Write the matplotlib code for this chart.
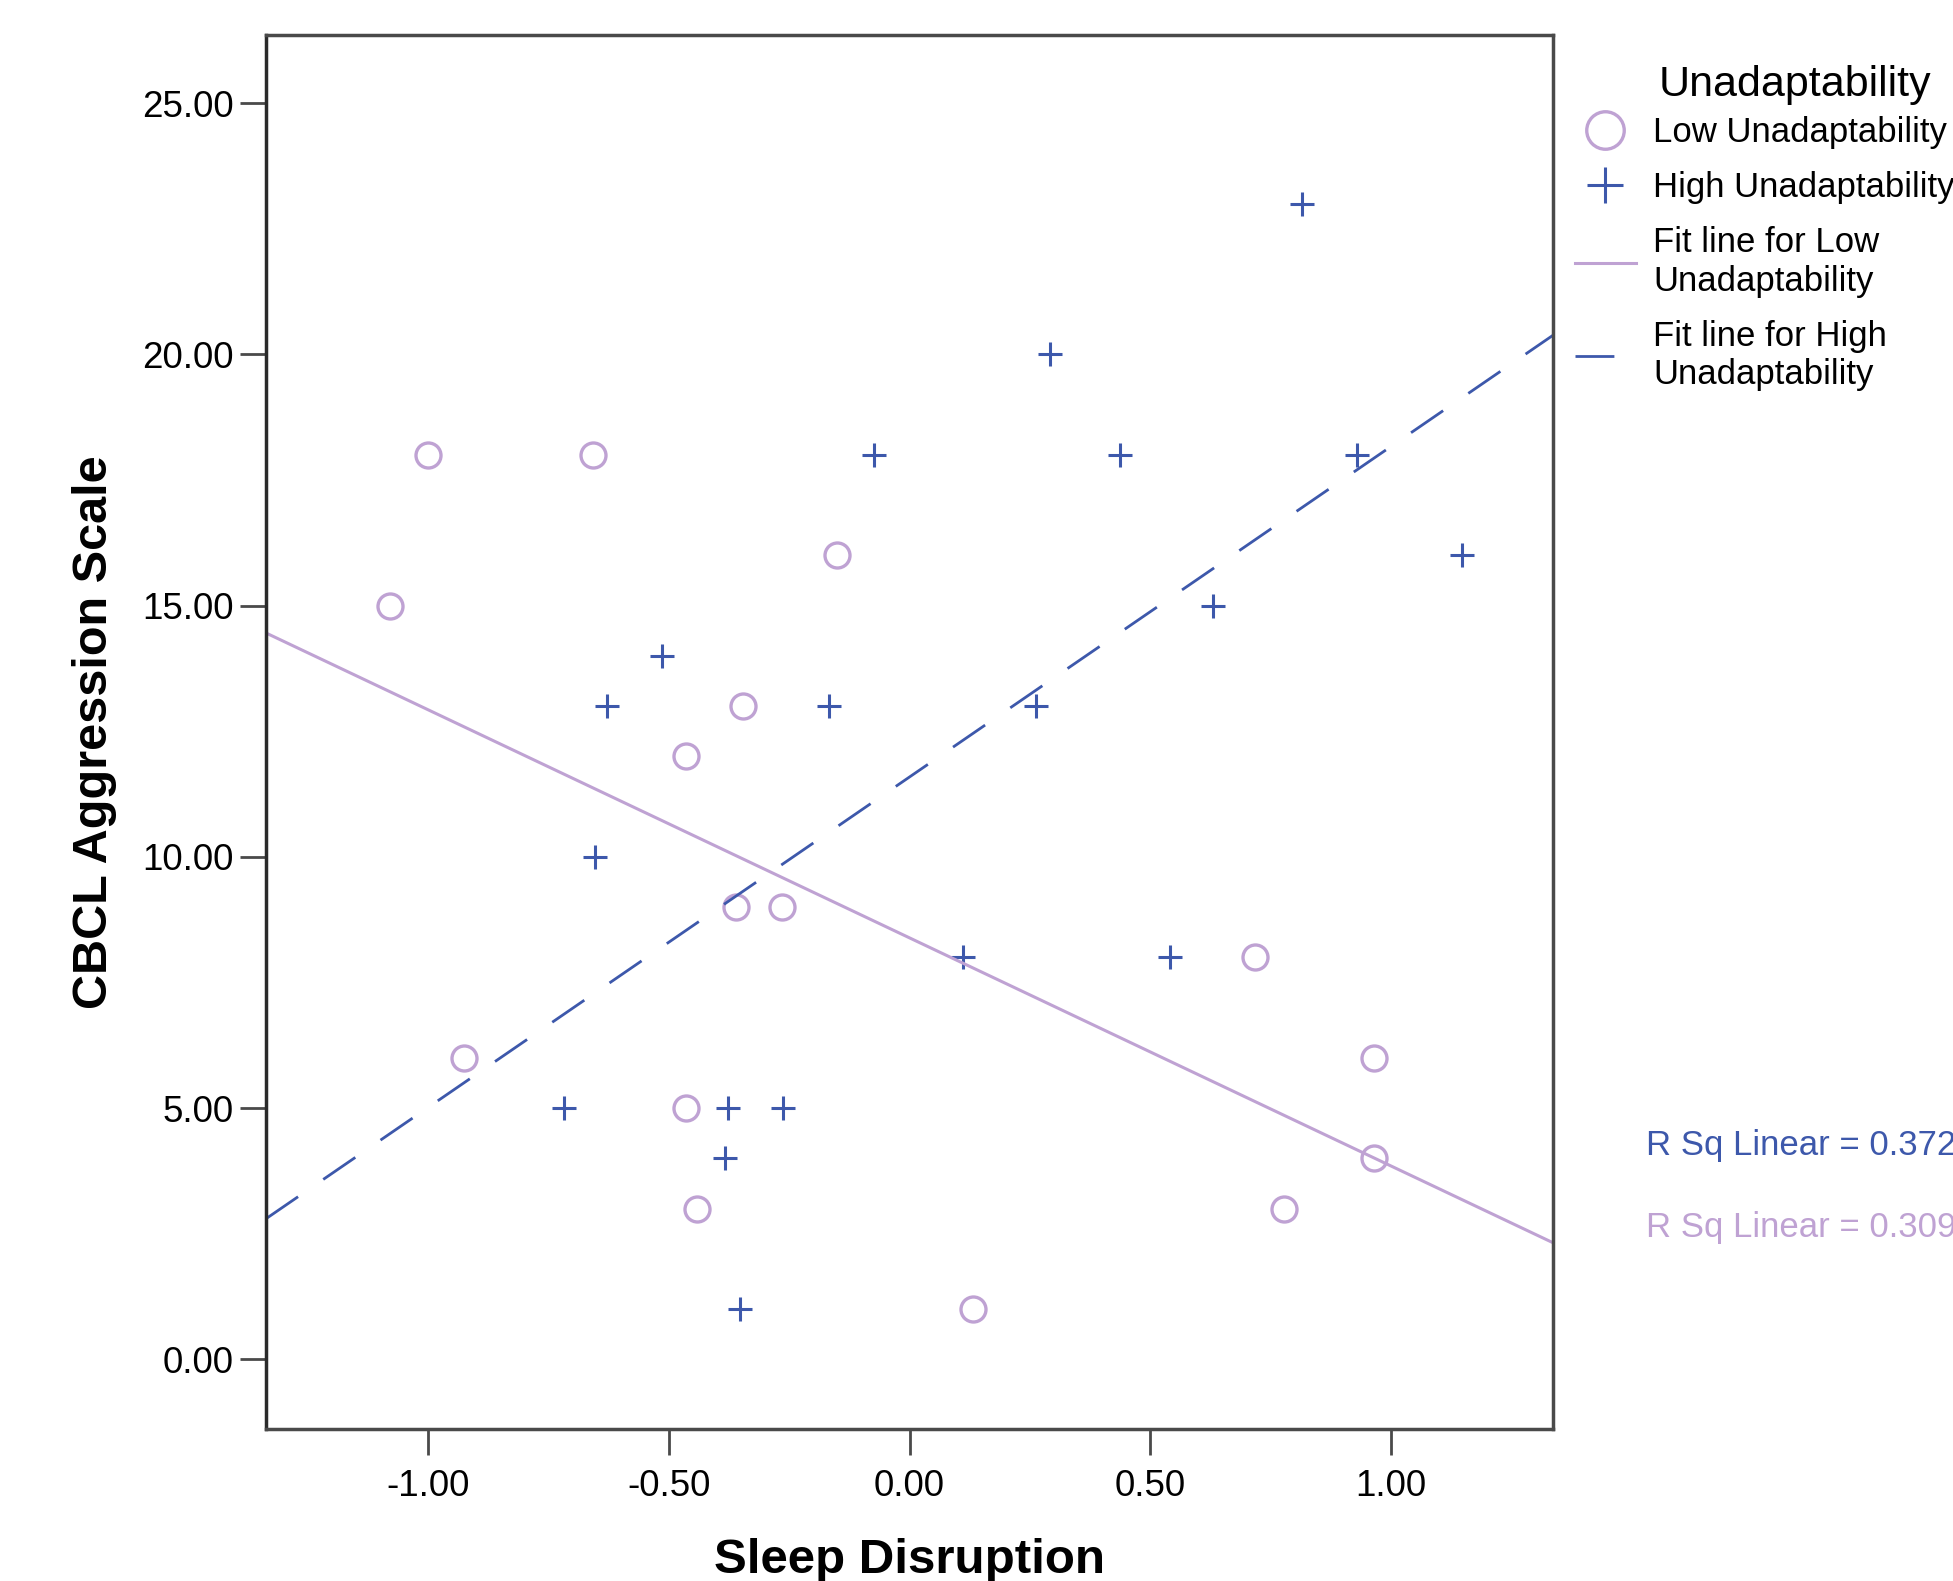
import numpy as np
import matplotlib
matplotlib.use('Agg')
import matplotlib.pyplot as plt

plt.rcParams['font.family'] = ['Liberation Sans', 'DejaVu Sans']

# Low unadaptability group (circles)
low_x = [-1.00, -0.658, -1.078, -0.151, -0.345, -0.464, -0.361, -0.265,
         -0.925, -0.464, -0.441, 0.131, 0.718, 0.964, 0.964, 0.777]
low_y = [18, 18, 15, 16, 13, 12, 9, 9, 6, 5, 3, 1, 8, 6, 4, 3]

# High unadaptability group (plus)
high_x = [0.814, 0.291, -0.074, 0.436, 0.928, 1.148, 0.630, -0.514, -0.628,
          -0.167, 0.262, -0.653, 0.112, 0.540, -0.718, -0.376, -0.263,
          -0.384, -0.351]
high_y = [23, 20, 18, 18, 18, 16, 15, 14, 13, 13, 13, 10, 8, 8, 5, 5, 5, 4, 1]

x_ticks = [-1.0, -0.5, 0.0, 0.5, 1.0]
y_ticks = [0, 5, 10, 15, 20, 25]
r2_high = '0.372'
r2_low = '0.309'

low_color = '#BFA2D3'
high_color = '#3D58AB'
spine_color = '#4a4a4a'


def main():
    fig = plt.figure(figsize=(19.53, 15.81), dpi=100)
    ax = fig.add_axes([0.1362, 0.0961, 0.6590, 0.8818])

    xlim = (-1.336, 1.336)
    ax.set_xlim(*xlim)
    ax.set_ylim(-1.39, 26.36)

    # fit lines across the whole x range
    xs = np.array(xlim)
    b_low = np.polyfit(low_x, low_y, 1)
    b_high = np.polyfit(high_x, high_y, 1)

    ax.plot(low_x, low_y, linestyle='none', marker='o', markersize=18,
            markerfacecolor='none', markeredgecolor=low_color,
            markeredgewidth=2.4, label='Low Unadaptability')
    ax.plot(high_x, high_y, linestyle='none', marker='+', markersize=17,
            color=high_color, markeredgewidth=2.2, label='High Unadaptability')
    ax.plot(xs, np.polyval(b_low, xs), color=low_color, lw=2.2,
            label='Fit line for Low\nUnadaptability')
    ax.plot(xs, np.polyval(b_high, xs), color=high_color, lw=2.0,
            dashes=(14, 11), label='Fit line for High\nUnadaptability')

    ax.set_xticks(x_ticks)
    ax.set_xticklabels(['%.2f' % v for v in x_ticks])
    ax.set_yticks(y_ticks)
    ax.set_yticklabels(['%.2f' % v for v in y_ticks])
    ax.tick_params(axis='both', direction='out', length=19, width=2,
                   color=spine_color, labelsize=26.5)
    ax.tick_params(axis='x', pad=10)
    ax.tick_params(axis='y', pad=4)

    for s in ax.spines.values():
        s.set_color(spine_color)
        s.set_linewidth(2.5)
    ax.spines['left'].set_color('#2a2a2a')

    ax.set_xlabel('Sleep Disruption', fontsize=35.5, fontweight='bold',
                  labelpad=24)
    ax.set_ylabel('CBCL Aggression Scale', fontsize=35, fontweight='bold',
                  labelpad=18)

    # legend title placed by hand so its gap to the entries matches
    fig.text(1659 / 1953, 1 - 85 / 1581, 'Unadaptability', fontsize=31,
             va='center', ha='left')
    fig.legend(loc='upper left', bbox_to_anchor=(0.8065, 0.9267),
               frameon=False, fontsize=25, markerscale=1.5,
               handlelength=1.75, handletextpad=0.5, labelspacing=0.64,
               borderpad=0, borderaxespad=0)

    fig.text(0.843, 1 - 1145 / 1581, 'R Sq Linear = ' + r2_high,
             color=high_color, fontsize=25, va='center')
    fig.text(0.843, 1 - 1227 / 1581, 'R Sq Linear = ' + r2_low,
             color=low_color, fontsize=25, va='center')

    fig.savefig('out.png', dpi=100, facecolor='white')


if __name__ == '__main__':
    main()
